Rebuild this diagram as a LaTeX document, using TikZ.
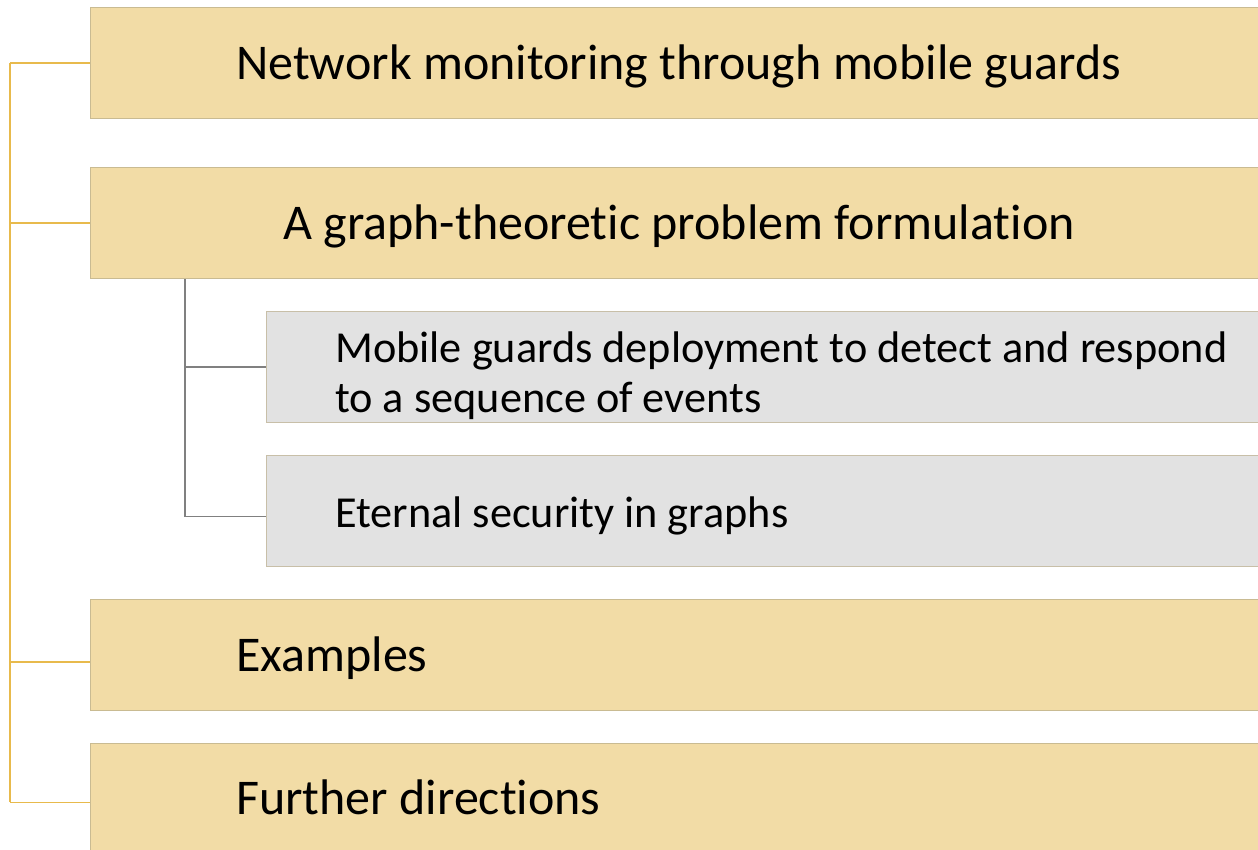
\documentclass[tikz,border=0pt]{standalone}
\usepackage{fontspec}
\setmainfont{Carlito}[Ligatures={NoCommon}]
\usepackage{xcolor}
\definecolor{boxGold}{RGB}{242,220,166}
\definecolor{rimGold}{RGB}{201,187,146}
\definecolor{lineGold}{RGB}{232,186,76}
\definecolor{boxGray}{RGB}{226,226,226}
\definecolor{rimGray}{RGB}{200,191,168}
\definecolor{lineGray}{RGB}{128,128,128}

\begin{document}
\begin{tikzpicture}[x=0.75pt,y=0.75pt,yscale=-1,xscale=1,
    topbox/.style={draw=rimGold, fill=boxGold, line width=0.75pt, minimum width=885pt, minimum height=83.25pt, inner sep=0pt, anchor=north west},
    subbox/.style={draw=rimGray, fill=boxGray, line width=0.75pt, minimum width=753pt, minimum height=83.25pt, inner sep=0pt, anchor=north west},
    toplbl/.style={anchor=base west, inner sep=0pt, font=\fontsize{37.5}{45}\selectfont},
    sublbl/.style={anchor=base west, inner sep=0pt, align=left, font=\fontsize{33.2}{37.5}\selectfont},
    goldline/.style={draw=lineGold, line width=1.1pt},
    grayline/.style={draw=lineGray, line width=1.1pt}]
    \useasboundingbox (0,0) rectangle (1258,850);
    \clip (0,0) rectangle (1258,850);
    
    %Shape: Rectangle [main topics] 
    \node[topbox] (network) at (90,7) {};
    \node[topbox] (formulation) at (90,167) {};
    \node[topbox] (examples) at (90,599) {};
    \node[topbox] (further) at (90,743) {};
    %Shape: Rectangle [sub topics] 
    \node[subbox] (deploy) at (266,311) {};
    \node[subbox] (eternal) at (266,455) {};
    
    %Straight Lines [gold tree] 
    \coordinate (trunk) at (10,0);
    \coordinate (exJoin) at ([yshift=5.25pt]examples.west);
    \coordinate (furJoin) at ([yshift=2.6pt]further.west);
    \draw[goldline] (trunk |- network.west) -- (trunk |- furJoin);
    \draw[goldline] (trunk |- network.west) -- (network.west);
    \draw[goldline] (trunk |- formulation.west) -- (formulation.west);
    \draw[goldline] (trunk |- exJoin) -- (exJoin);
    \draw[goldline] (trunk |- furJoin) -- (furJoin);
    %Straight Lines [gray tree] 
    \coordinate (branch) at (185,0);
    \coordinate (etJoin) at ([yshift=4.1pt]eternal.west);
    \draw[grayline] (branch |- formulation.south) |- (etJoin);
    \draw[grayline] (branch |- deploy.west) -- (deploy.west);
    
    % Text Node
    \node[toplbl] (networkT) at (236,79) {Network monitoring through mobile guards};
    % Text Node
    \node[toplbl] (formulationT) at (283,239) {A graph-theoretic problem formulation};
    % Text Node
    \node[sublbl] (deployT) at (335,412) {Mobile guards deployment to detect and respond\\to a sequence of events};
    % Text Node
    \node[sublbl] (eternalT) at (335,527) {Eternal security in graphs};
    % Text Node
    \node[toplbl] (examplesT) at (236,671) {Examples};
    % Text Node
    \node[toplbl] (furtherT) at (236,814) {Further directions};
    
\end{tikzpicture}
\end{document}
